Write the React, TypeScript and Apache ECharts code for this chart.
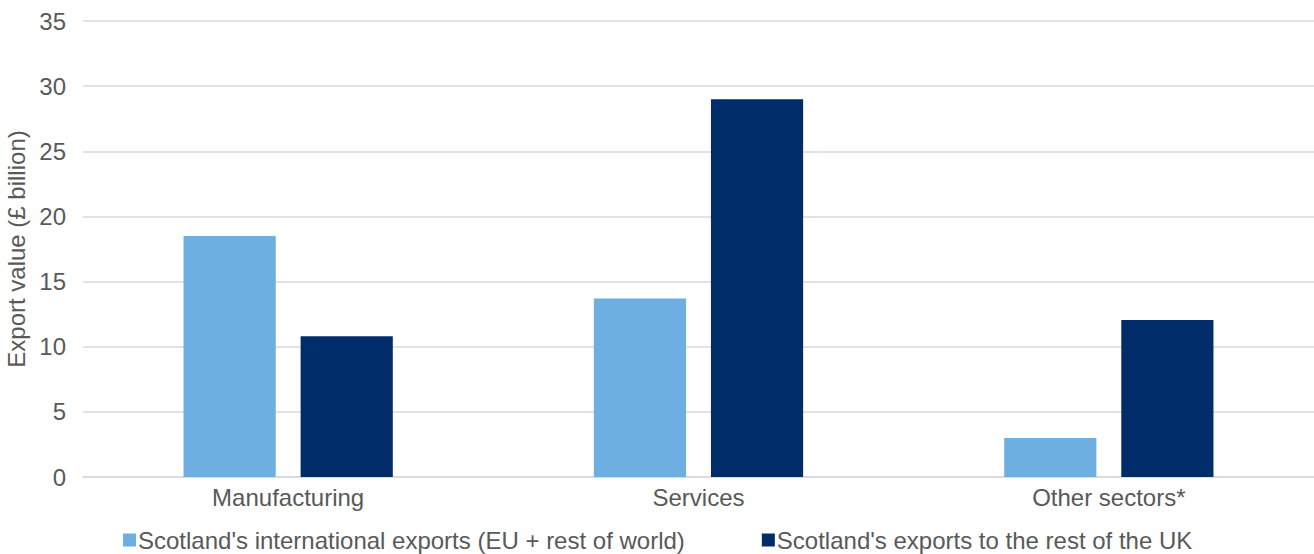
import React, { useEffect, useRef } from "react";
import * as echarts from "echarts";

const categories = ["Manufacturing", "Services", "Other sectors*"];
const internationalExports = [18.5, 13.7, 3.0];
const rukExports = [10.8, 29.0, 12.05];
const seriesNames = [
  "Scotland's international exports (EU + rest of world)",
  "Scotland's exports to the rest of the UK",
];
const yAxisTitle = "Export value (£ billion)";

const FONT = "'Liberation Sans', Arial, sans-serif";
const TEXT = "#595959";

export default function App() {
  const ref = useRef<HTMLDivElement>(null);
  useEffect(() => {
    if (!ref.current) return;
    const chart = echarts.init(ref.current, undefined, { renderer: "svg" });
    chart.setOption({
      animation: false,
      textStyle: { fontFamily: FONT },
      grid: { left: 83, right: 0, top: 21, bottom: 77, containLabel: false, outerBoundsMode: "none" },
      legend: {
        top: 528,
        left: 123,
        itemWidth: 13,
        itemHeight: 13,
        itemGap: 77,
        icon: "rect",
        padding: 0,
        textStyle: { color: TEXT, fontSize: 24, lineHeight: 24, fontFamily: FONT, padding: [0, 0, 0, -3] },
        data: seriesNames,
      },
      xAxis: {
        type: "category",
        data: categories,
        axisLine: { lineStyle: { color: "#D9D9D9", width: 1.5 } },
        axisTick: { show: false },
        axisLabel: { color: TEXT, fontSize: 24, margin: 8, fontFamily: FONT },
      },
      yAxis: {
        type: "value",
        min: 0,
        max: 35,
        interval: 5,
        name: yAxisTitle,
        nameLocation: "middle",
        nameGap: 51,
        nameTextStyle: { color: TEXT, fontSize: 24, fontFamily: FONT },
        axisLine: { show: false },
        axisTick: { show: false },
        axisLabel: { color: TEXT, fontSize: 24, margin: 17, fontFamily: FONT },
        splitLine: { lineStyle: { color: "#D9D9D9", width: 1.5 } },
      },
      series: [
        {
          name: seriesNames[0],
          type: "bar",
          data: internationalExports,
          itemStyle: { color: "#6CAFE0" },
          barGap: "27%",
          barCategoryGap: "49%",
        },
        {
          name: seriesNames[1],
          type: "bar",
          data: rukExports,
          itemStyle: { color: "#002C6A" },
        },
      ],
    });
    return () => chart.dispose();
  }, []);
  return (
    <div
      ref={ref}
      style={{ position: "absolute", left: 0, top: 0, width: 1314, height: 554 }}
    />
  );
}
